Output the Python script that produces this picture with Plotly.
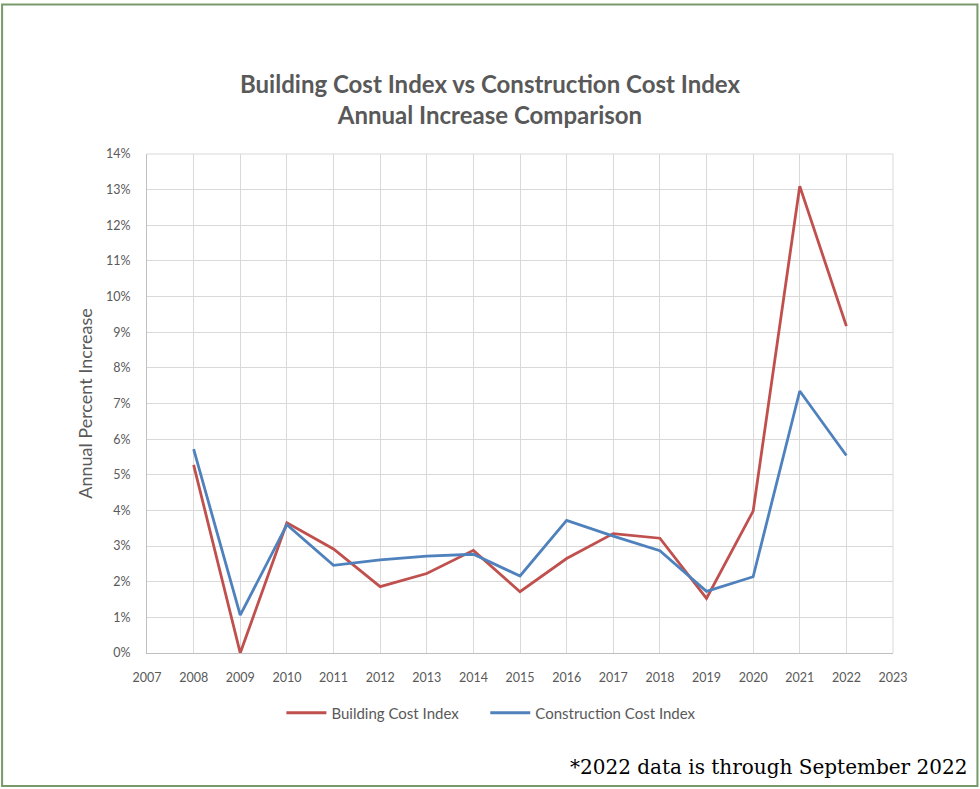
import plotly.graph_objects as go

years = [2008, 2009, 2010, 2011, 2012, 2013, 2014, 2015, 2016, 2017, 2018, 2019, 2020, 2021, 2022]
building_cost_index = [5.28, 0.0, 3.65, 2.92, 1.86, 2.23, 2.88, 1.72, 2.65, 3.35, 3.22, 1.53, 3.98, 13.10, 9.17]
construction_cost_index = [5.72, 1.06, 3.60, 2.46, 2.61, 2.72, 2.77, 2.16, 3.72, 3.28, 2.87, 1.73, 2.14, 7.35, 5.54]
series_names = ["Building Cost Index", "Construction Cost Index"]
title_lines = ["Building Cost Index vs Construction Cost Index", "Annual Increase Comparison"]
y_title = "Annual Percent Increase"
footnote = "*2022 data is through September 2022"

W, H = 980, 789
L, R, T, B = 146.5, 893, 154, 653

fig = go.Figure()
fig.add_trace(go.Scatter(x=years, y=[v / 100 for v in building_cost_index], mode="lines",
                         name=series_names[0], line=dict(color="#C0504D", width=2.8),
                         legend="legend"))
fig.add_trace(go.Scatter(x=years, y=[v / 100 for v in construction_cost_index], mode="lines",
                         name=series_names[1], line=dict(color="#4F81BD", width=2.8),
                         legend="legend2"))

def px(x):
    return (x - L) / (R - L)

def py(y):
    return (B - y) / (B - T)

FONT = "Lato, Carlito, Calibri, sans-serif"
GREY = "#595959"
tick_font = dict(family=FONT, size=12.5, color=GREY)
legend_font = dict(family=FONT, size=15, color=GREY)

fig.update_layout(
    width=W, height=H,
    margin=dict(l=L, r=W - R, t=T, b=H - B),
    paper_bgcolor="white", plot_bgcolor="white",
    showlegend=True,
    legend=dict(orientation="h", x=px(281), xanchor="left", y=py(713), yanchor="middle",
                font=legend_font, itemwidth=40),
    legend2=dict(orientation="h", x=px(485), xanchor="left", y=py(713), yanchor="middle",
                 font=legend_font, itemwidth=40),
    title=dict(text="<b>" + "<br>".join(title_lines) + "</b>",
               x=0.5, xref="container", xanchor="center", y=1 - 93 / H, yanchor="middle",
               font=dict(family=FONT, size=24, color=GREY)),
    xaxis=dict(range=[2007, 2023], dtick=1, tick0=2007, showgrid=True, gridcolor="#D9D9D9",
               gridwidth=1, showline=True, linecolor="#BFBFBF", linewidth=1, ticks="",
               tickfont=tick_font, zeroline=False, fixedrange=True, ticklabelstandoff=13),
    yaxis=dict(range=[0, 0.14], dtick=0.01, tick0=0, tickformat=".0%", showgrid=True,
               gridcolor="#D9D9D9", gridwidth=1, showline=True, linecolor="#BFBFBF", linewidth=1,
               ticks="", tickfont=tick_font, zeroline=False, fixedrange=True, ticklabelstandoff=13,
               title=dict(text=y_title, standoff=8,
                          font=dict(family=FONT, size=18, color=GREY))),
)

# plot-area top/right edges
fig.add_shape(type="line", xref="paper", yref="paper", x0=0, x1=1, y0=1, y1=1,
              line=dict(color="#D9D9D9", width=1))
fig.add_shape(type="line", xref="paper", yref="paper", x0=1, x1=1, y0=0, y1=1,
              line=dict(color="#D9D9D9", width=1))
# outer green border
fig.add_shape(type="rect", xref="paper", yref="paper",
              x0=px(1.5), x1=px(977.5), y0=py(786), y1=py(4.5),
              line=dict(color="#779A68", width=2), layer="above")

fig.add_annotation(text=footnote, xref="paper", yref="paper", x=px(969), y=py(767),
                   xanchor="right", yanchor="middle", showarrow=False,
                   font=dict(family="DejaVu Serif, serif", size=20, color="#000000"))

fig.write_html("out.html", config={"displayModeBar": False},
               post_script="document.body.style.margin='0';")
